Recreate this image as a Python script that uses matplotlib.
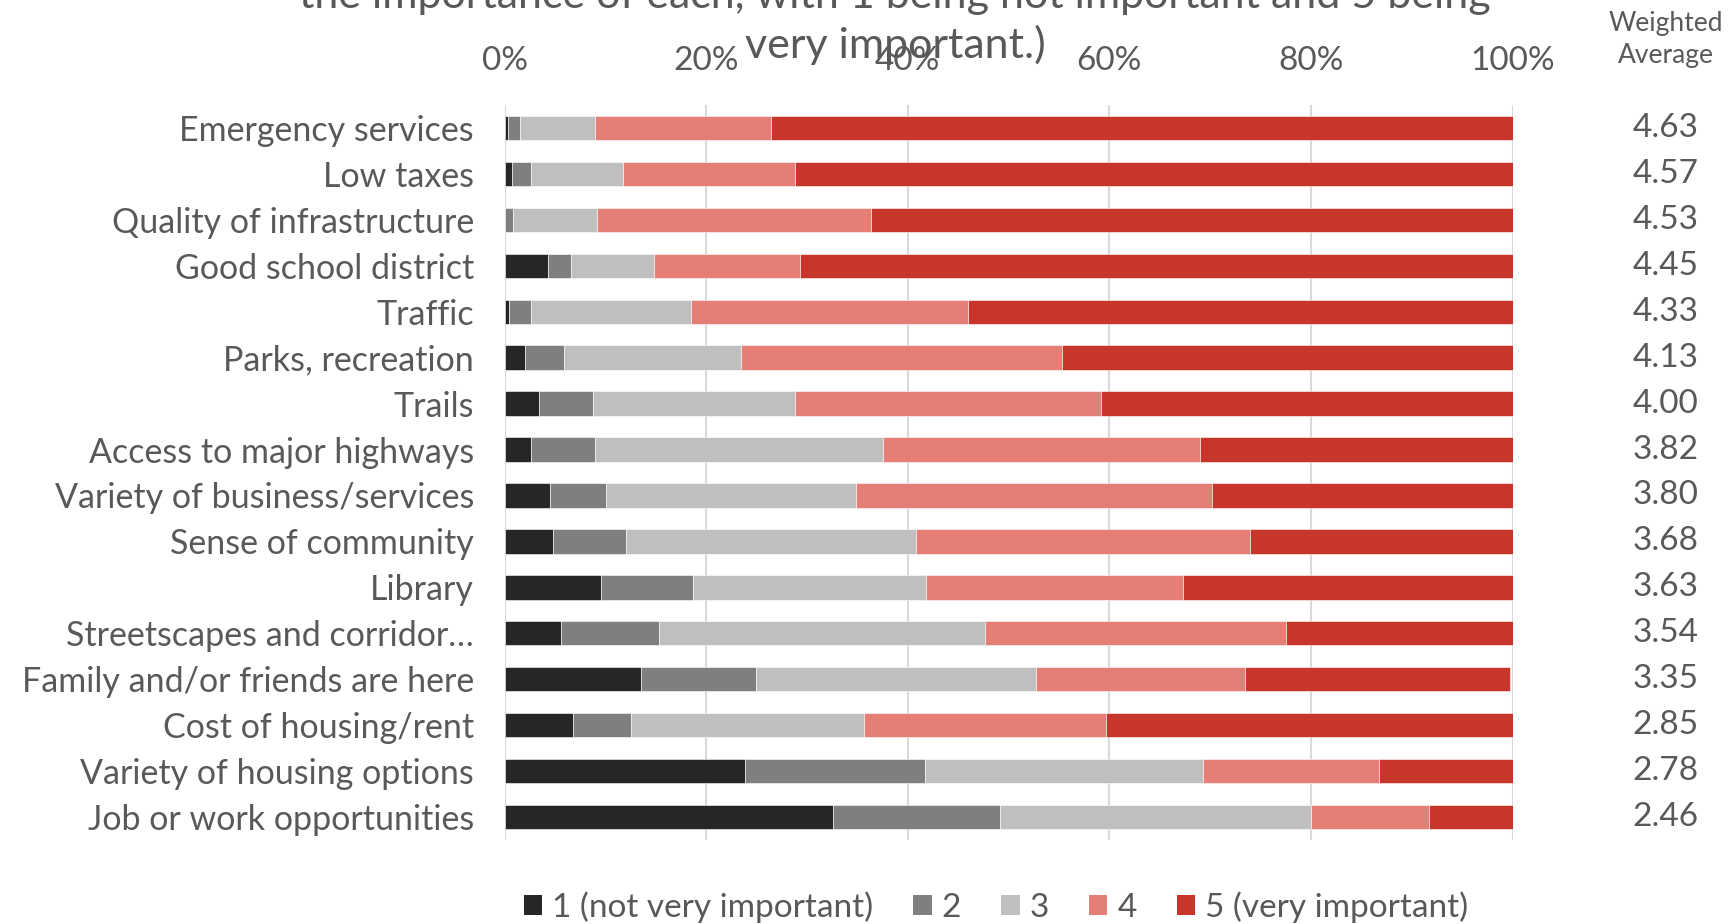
import matplotlib.pyplot as plt
import numpy as np
from matplotlib.patches import Patch

# survey items, top to bottom
categories = [
    "Emergency services", "Low taxes", "Quality of infrastructure",
    "Good school district", "Traffic", "Parks, recreation", "Trails",
    "Access to major highways", "Variety of business/services",
    "Sense of community", "Library", "Streetscapes and corridor\u2026",
    "Family and/or friends are here", "Cost of housing/rent",
    "Variety of housing options", "Job or work opportunities",
]

# share of responses (%) for each rating
r1 = [0.3, 0.7, 0.0, 4.3, 0.4, 2.0, 3.4, 2.6, 4.5, 4.8, 9.6, 5.6, 13.5, 6.8, 23.9, 32.6]
r2 = [1.2, 1.9, 0.8, 2.3, 2.2, 3.9, 5.4, 6.4, 5.6, 7.2, 9.1, 9.7, 11.4, 5.7, 17.8, 16.6]
r3 = [7.5, 9.1, 8.4, 8.2, 15.9, 17.6, 20.0, 28.5, 24.8, 28.8, 23.1, 32.4, 27.8, 23.2, 27.6, 30.8]
r4 = [17.4, 17.1, 27.2, 14.5, 27.5, 31.8, 30.4, 31.5, 35.3, 33.2, 25.5, 29.8, 20.8, 24.0, 17.5, 11.7]
r5 = [73.6, 71.2, 63.6, 70.7, 54.0, 44.7, 40.8, 31.0, 29.8, 26.0, 32.7, 22.5, 26.3, 40.3, 13.2, 8.3]

weighted_avg = ["4.63", "4.57", "4.53", "4.45", "4.33", "4.13", "4.00", "3.82",
                "3.80", "3.68", "3.63", "3.54", "3.35", "2.85", "2.78", "2.46"]

series_labels = ["1 (not very important)", "2", "3", "4", "5 (very important)"]
colors = ["#262626", "#7F7F7F", "#BFBFBF", "#E57F76", "#C8352A"]

TXT = "#595959"
plt.rcParams['font.family'] = ['Lato', 'DejaVu Sans']

W, H = 1736, 924
fig = plt.figure(figsize=(W / 100, H / 100), dpi=100)
ax = fig.add_axes([504.6 / W, 1 - 840 / H, (1512.5 - 504.6) / W, (840 - 105) / H])

y = np.arange(len(categories))
left = np.zeros(len(categories))
for vals, c in zip([r1, r2, r3, r4, r5], colors):
    vals = np.array(vals)
    ax.barh(y, vals, left=left, height=0.53, color=c, edgecolor='white',
            linewidth=0.4, zorder=3)
    left += vals

ax.set_xlim(0, 100)
ax.set_ylim(len(categories) - 0.5, -0.5)
ax.xaxis.tick_top()
ax.set_xticks(np.arange(0, 101, 20))
ax.set_xticklabels([f"{v}%" for v in range(0, 101, 20)])
ax.set_yticks(y)
ax.set_yticklabels(categories)
ax.tick_params(axis='x', length=0, pad=21, labelsize=24, labelcolor=TXT)
ax.tick_params(axis='y', length=0, pad=22, labelsize=24.5, labelcolor=TXT)
ax.grid(axis='x', color='#D9D9D9', linewidth=1.5, zorder=0)
ax.grid(axis='y', visible=False)
for s in ax.spines.values():
    s.set_visible(False)

# weighted average column
for yi, v in zip(y, weighted_avg):
    ax.text(1.152, yi, v, transform=ax.get_yaxis_transform(), ha='center',
            va='center', fontsize=24, color=TXT, clip_on=False)
fig.text(1666 / W, 1 - 24 / H, "Weighted", ha='center', va='center',
         fontsize=19, color=TXT)
fig.text(1666 / W, 1 - 55 / H, "Average", ha='center', va='center',
         fontsize=19, color=TXT)

# title (runs off the top of the canvas)
fig.text(895 / W, 1 - 8 / H,
         "the importance of each, with 1 being not important and 5 being",
         ha='center', va='baseline', fontsize=31, color=TXT)
fig.text(895 / W, 1 - 58 / H, "very important.)", ha='center',
         va='baseline', fontsize=31, color=TXT)

handles = [Patch(facecolor=c, edgecolor='none') for c in colors]
fig.legend(handles, series_labels, loc='center', ncol=5,
           bbox_to_anchor=(996 / W, 1 - 907 / H), frameon=False,
           fontsize=24, labelcolor=TXT, handlelength=0.55, handleheight=0.55,
           handletextpad=0.3, columnspacing=1.2)

fig.savefig("out.png", dpi=100)
